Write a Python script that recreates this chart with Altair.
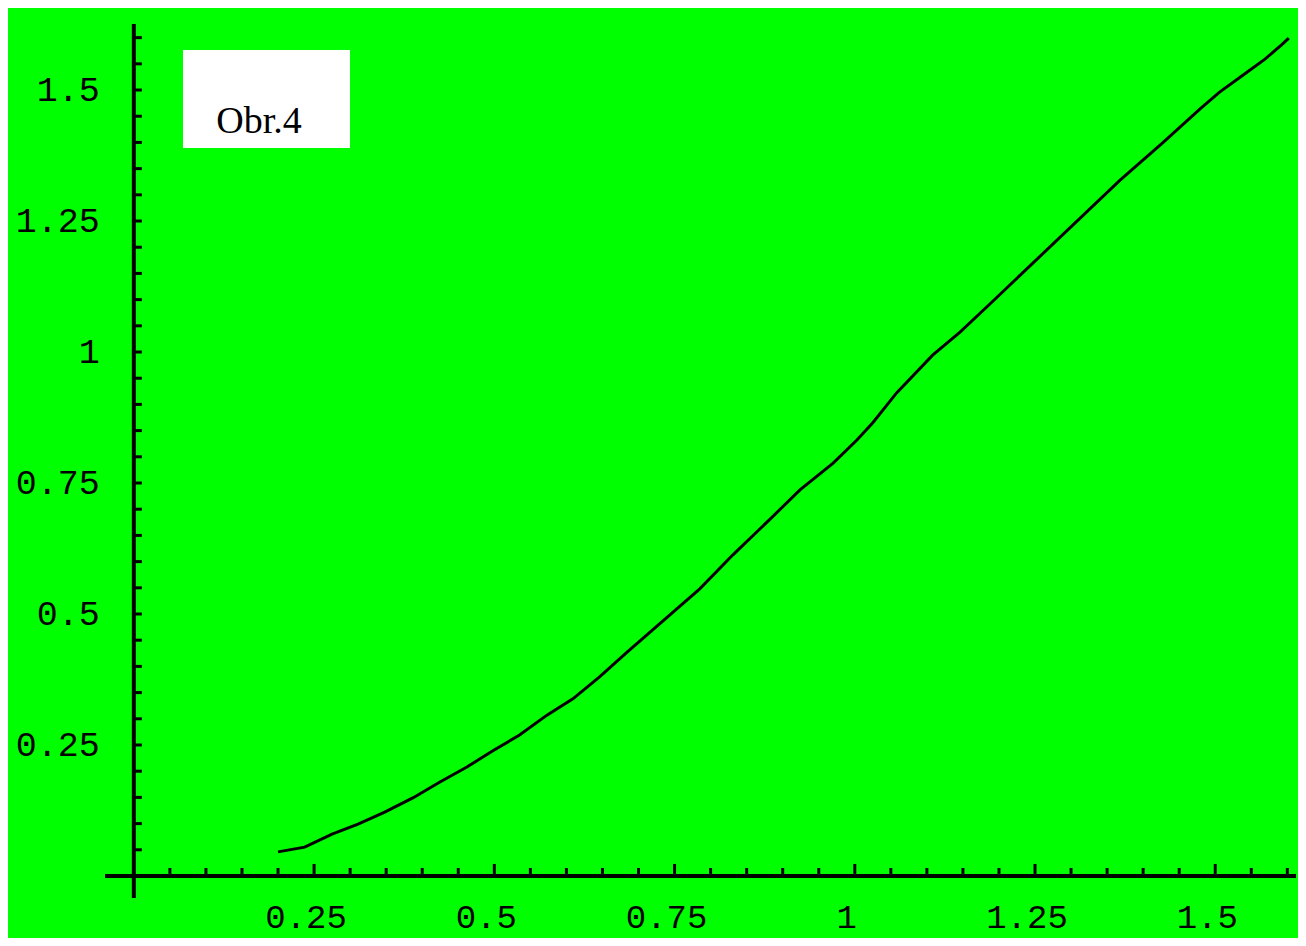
import altair as alt
import pandas as pd

# curve
curve_x = [0.200, 0.237, 0.275, 0.311, 0.348, 0.387, 0.424, 0.462, 0.498, 0.535,
           0.573, 0.609, 0.646, 0.685, 0.785, 0.831, 0.884, 0.924, 0.970, 1.003,
           1.025, 1.058, 1.108, 1.146, 1.190, 1.368, 1.427, 1.479, 1.506, 1.544,
           1.569, 1.592, 1.602]
curve_y = [0.046, 0.055, 0.080, 0.099, 0.122, 0.149, 0.179, 0.208, 0.239, 0.269,
           0.307, 0.338, 0.380, 0.428, 0.548, 0.613, 0.683, 0.737, 0.788, 0.832,
           0.865, 0.922, 0.994, 1.038, 1.095, 1.328, 1.399, 1.464, 1.496, 1.534,
           1.559, 1.586, 1.599]

x_major = [0.25, 0.5, 0.75, 1.0, 1.25, 1.5]
x_major_labels = ["0.25", "0.5", "0.75", "1", "1.25", "1.5"]
x_minor = [0.05, 0.1, 0.15, 0.2, 0.3, 0.35, 0.4, 0.45, 0.55, 0.6, 0.65, 0.7,
           0.8, 0.85, 0.9, 0.95, 1.05, 1.1, 1.15, 1.2, 1.3, 1.35, 1.4, 1.45,
           1.55, 1.6]
y_ticks = [0.05, 0.1, 0.15, 0.2, 0.25, 0.3, 0.35, 0.4, 0.45, 0.5, 0.55, 0.6,
           0.65, 0.7, 0.75, 0.8, 0.85, 0.9, 0.95, 1.0, 1.05, 1.1, 1.15, 1.2,
           1.25, 1.3, 1.35, 1.4, 1.45, 1.5, 1.55, 1.6]
y_major = [0.25, 0.5, 0.75, 1.0, 1.25, 1.5]
y_major_labels = ["0.25", "0.5", "0.75", "1", "1.25", "1.5"]
note_text = ["Obr.4"]

W, H = 1191, 874
xs = alt.Scale(domain=[-0.04, 1.612], nice=False, zero=False)
ys = alt.Scale(domain=[-0.042, 1.626], nice=False, zero=False)
LABEL_FONT = "Liberation Mono"

curve_df = pd.DataFrame({"x": curve_x, "y": curve_y})
xmaj_df = pd.DataFrame({"v": x_major, "t": x_major_labels})
xmin_df = pd.DataFrame({"v": x_minor})
yt_df = pd.DataFrame({"v": y_ticks})
ymaj_df = pd.DataFrame({"v": y_major, "t": y_major_labels})
note_df = pd.DataFrame({"t": note_text})

X0 = alt.XDatum(0, scale=xs, axis=None, type="quantitative")
Y0 = alt.YDatum(0, scale=ys, axis=None, type="quantitative")
X20 = alt.X2Datum(0)
Y20 = alt.Y2Datum(0)

x_axis = alt.Chart(note_df).mark_rule(color="black", strokeWidth=4).encode(
    y=Y0, x=alt.value(0), x2=alt.value(W))
y_axis = alt.Chart(note_df).mark_rule(color="black", strokeWidth=4).encode(
    x=X0, y=alt.value(0), y2=alt.value(H))

x_major_ticks = alt.Chart(xmaj_df).mark_rule(color="black", strokeWidth=3, y2Offset=-12).encode(
    x=alt.X("v:Q", scale=xs, axis=None), y=Y0, y2=Y20)
x_minor_ticks = alt.Chart(xmin_df).mark_rule(color="black", strokeWidth=3, y2Offset=-8).encode(
    x=alt.X("v:Q", scale=xs, axis=None), y=Y0, y2=Y20)
y_tick_marks = alt.Chart(yt_df).mark_rule(color="black", strokeWidth=3, x2Offset=8).encode(
    y=alt.Y("v:Q", scale=ys, axis=None), x=X0, x2=X20)

x_labels = alt.Chart(xmaj_df).mark_text(
    font=LABEL_FONT, fontSize=34, color="black", align="center", baseline="middle",
    dx=-8, dy=42).encode(
    x=alt.X("v:Q", scale=xs, axis=None), y=Y0, text="t:N")
y_labels = alt.Chart(ymaj_df).mark_text(
    font=LABEL_FONT, fontSize=35, color="black", align="right", baseline="middle",
    dx=-34).encode(
    y=alt.Y("v:Q", scale=ys, axis=None), x=X0, text="t:N")

note_box = alt.Chart(note_df).mark_rect(color="white").encode(
    x=alt.value(78), x2=alt.value(245), y=alt.value(26), y2=alt.value(124))
note_txt = alt.Chart(note_df).mark_text(
    font="Liberation Serif", fontSize=38, color="black", align="center",
    baseline="alphabetic").encode(
    x=alt.value(154), y=alt.value(109), text="t:N")

line = alt.Chart(curve_df).mark_line(color="black", strokeWidth=3).encode(
    x=alt.X("x:Q", scale=xs, axis=None),
    y=alt.Y("y:Q", scale=ys, axis=None))

chart = alt.layer(
    x_axis, y_axis, x_major_ticks, x_minor_ticks, y_tick_marks,
    x_labels, y_labels, note_box, note_txt, line
).properties(
    width=W, height=H,
    background="#00ff00",
    padding={"left": 97, "top": 16, "right": 2, "bottom": 40},
    autosize=alt.AutoSizeParams(type="none"),
).configure_view(stroke=None)

chart.save("out.html", embed_options={"renderer": "svg", "actions": False})
